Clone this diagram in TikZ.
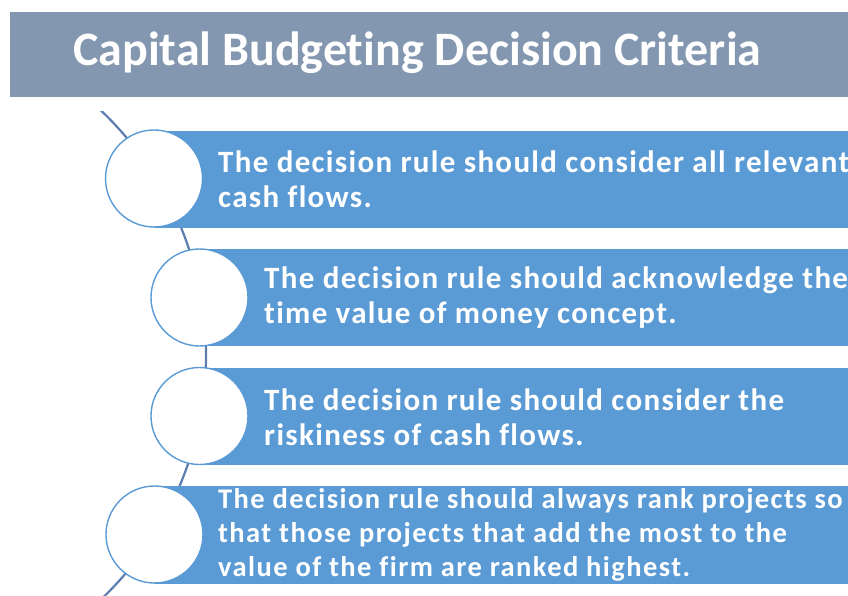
\documentclass[tikz,border=0pt]{standalone}
\usepackage{fontspec}
\setmainfont[Ligatures=NoCommon]{Carlito}
\newfontfamily\widefont[LetterSpace=4.3,Ligatures=NoCommon]{Carlito}
\newfontfamily\widerfont[LetterSpace=5,Ligatures=NoCommon]{Carlito}
\definecolor{bannergray}{HTML}{8497B0}
\definecolor{barblue}{HTML}{5B9BD5}
\definecolor{arcblue}{HTML}{5D7DAE}

\begin{document}
\begin{tikzpicture}[x=1pt,y=-1pt,
    bar/.style={fill=barblue},
    dot/.style={circle,draw=barblue,line width=1.4pt,fill=white,minimum size=97pt,inner sep=0pt},
    txt/.style={anchor=west,align=left,inner sep=0pt,text=white,font=\widefont\bfseries\fontsize{31}{35}\selectfont}]
    \useasboundingbox (0,0) rectangle (848,596);
    \clip (0,0) rectangle (848,596);

    % Title banner
    \fill[bannergray] (10,12) rectangle (848,97);
    \node[anchor=west,inner sep=0pt,text=white,font=\bfseries\fontsize{48}{52}\selectfont] (title) at (73,53) {Capital Budgeting Decision Criteria};

    % Arc behind the circles
    \begin{scope}
        \clip (0,112) rectangle (848,596);
        \draw[arcblue,line width=2.2pt] (-131,355) circle[radius=337];
    \end{scope}

    % Item 1
    \fill[bar] (154,131) rectangle (848,228);
    \node[dot] (c1) at (154,178.5) {};
    \node[txt] (t1) at (218,179) {The decision rule should consider all relevant\\cash flows.};

    % Item 2
    \fill[bar] (199,249) rectangle (848,346);
    \node[dot] (c2) at (199.5,297.5) {};
    \node[txt] (t2) at (264,298) {The decision rule should acknowledge the\\time value of money concept.};

    % Item 3
    \fill[bar] (199,368) rectangle (848,465);
    \node[dot] (c3) at (199.5,416) {};
    \node[txt] (t3) at (264,417) {The decision rule should consider the\\riskiness of cash flows.};

    % Item 4
    \fill[bar] (154,486) rectangle (848,584);
    \node[dot] (c4) at (154.5,534.5) {};
    \node[txt,font=\widerfont\bfseries\fontsize{28.5}{34}\selectfont] (t4) at (218,535) {The decision rule should always rank projects so\\that those projects that add the most to the\\value of the firm are ranked highest.};
\end{tikzpicture}
\end{document}
